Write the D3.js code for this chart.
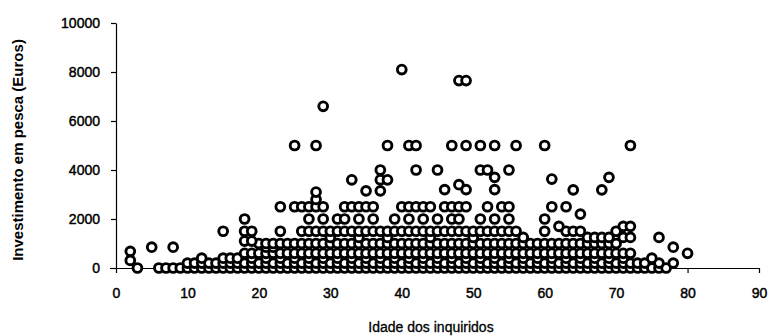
<!DOCTYPE html>
<html><head><meta charset="utf-8">
<script src="https://cdn.jsdelivr.net/npm/d3@7"></script>
<style>
html,body{margin:0;padding:0;background:#fff;}
svg text{font-family:"Liberation Sans",Arial,sans-serif;fill:#000;}
</style></head>
<body><svg id="c" width="768" height="336"></svg>
<script>
// Tick labels
const xTicks = [0,10,20,30,40,50,60,70,80,90];
const yTicks = [0,2000,4000,6000,8000,10000];

// Investment levels (Euros) and the ages of respondents at each level
const niveis = [0,200,400,600,850,1000,1100,1250,1500,1700,2000,2200,2500];
const idades0    = [3,6,7,8,9,10,11,12,13,14,15,16,17,18,19,20,21,22,23,24,25,26,27,28,29,30,31,32,33,34,35,36,37,38,39,40,41,42,43,44,45,46,47,48,49,50,51,52,53,54,55,56,57,58,59,60,61,62,63,64,65,66,67,68,69,70,71,72,73,74,75,76,77];
const idades200  = [10,11,12,13,14,15,16,17,18,19,20,21,22,23,24,25,26,27,28,29,30,31,32,33,34,35,36,37,38,39,40,41,42,43,44,45,46,47,48,49,50,51,52,53,54,55,56,57,58,59,60,61,62,63,64,65,66,67,68,69,70,71,72,73,74,76,78];
const idades400  = [12,15,16,17,19,21,23,25,27,29,31,33,35,37,39,41,43,45,47,49,51,53,55,57,59,61,63,65,67,69,71,75];
const idades600  = [18,19,20,21,22,23,24,25,26,27,28,29,30,31,32,33,34,35,36,37,38,39,40,41,42,43,44,45,46,47,48,49,50,51,52,53,54,55,56,57,58,59,60,61,62,63,64,65,66,67,68,69,70,71,72,80];
const idades850  = [5,8,21,22,78];
const idades1000 = [20,21,22,23,24,25,26,27,28,29,30,31,32,33,34,35,36,37,38,39,40,41,42,43,44,45,46,47,48,49,50,51,52,53,54,55,56,57,58,59,60,61,62,63,64,65,66,67,68,69,70];
const idades1100 = [18,19];
const idades1250 = [30,34,38,44,50,57,66,67,68,69,71,72,76];
const idades1500 = [15,18,19,23,26,27,28,29,30,31,32,33,34,35,36,37,38,39,40,41,42,43,44,45,46,47,48,49,50,51,52,53,54,55,56,60,63,64,65,70];
const idades1700 = [62,71,72];
const idades2000 = [18,27,29,31,32,34,36,39,41,43,45,47,48,51,53,55,60];
const idades2200 = [65];
const idades2500 = [23,25,26,27,28,29,32,33,34,35,36,40,41,42,43,44,46,47,48,49,52,54,55,61,63];
const idadesPorNivel = [idades0,idades200,idades400,idades600,idades850,idades1000,idades1100,idades1250,idades1500,idades1700,idades2000,idades2200,idades2500];

// Isolated respondents
const idadesSoltas = [2,2,28,28,35,37,33,37,38,46,48,49,53,53,61,64,68,69,37,42,45,51,52,55,25,28,38,41,42,47,49,51,53,56,60,72,29,48,49,40];
const valoresSoltos = [680,310,2800,3100,3150,3150,3600,3600,3600,3200,3400,3200,3200,3700,3630,3190,3190,3700,4000,4000,4000,4000,4000,4000,5000,5000,5000,5000,5000,5000,5000,5000,5000,5000,5000,5000,6600,7650,7650,8100];

const pontos = [];
niveis.forEach((v,i)=>idadesPorNivel[i].forEach(a=>pontos.push({idade:a, valor:v})));
idadesSoltas.forEach((a,i)=>pontos.push({idade:a, valor:valoresSoltos[i]}));

const svg = d3.select("#c");
const x = d3.scaleLinear().domain([0,90]).range([116,759]);
const y = d3.scaleLinear().domain([0,10000]).range([268,23]);

const xAxis = svg.append("g").attr("transform","translate(0,268)")
  .call(d3.axisBottom(x).tickValues(xTicks).tickFormat(d3.format("d")).tickSize(5).tickSizeOuter(0).tickPadding(15));
const yAxis = svg.append("g").attr("transform","translate(116,0)")
  .call(d3.axisLeft(y).tickValues(yTicks).tickFormat(d3.format("d")).tickSize(5).tickSizeOuter(0).tickPadding(11));
[xAxis,yAxis].forEach(g=>{
  g.selectAll("path,line").attr("stroke","#000").attr("stroke-width",1.2);
  g.selectAll("text").attr("font-size",14).attr("font-family","Liberation Sans, Arial, sans-serif")
    .attr("fill","#000").attr("stroke","#000").attr("stroke-width",0.45);
});
xAxis.select(".domain").attr("d","M110,0.5H759");

svg.append("g").selectAll("circle").data(pontos).join("circle")
  .attr("cx",d=>x(d.idade)).attr("cy",d=>y(d.valor)).attr("r",4.4)
  .attr("fill","#fff").attr("stroke","#000").attr("stroke-width",2.9);

svg.append("text").attr("x",431).attr("y",332).attr("text-anchor","middle")
  .attr("font-size",14).attr("stroke","#000").attr("stroke-width",0.3).text("Idade dos inquiridos");
svg.append("text").attr("transform","translate(23,150) rotate(-90)").attr("text-anchor","middle")
  .attr("font-size",15).attr("font-weight","bold").text("Investimento em pesca (Euros)");
</script></body></html>
